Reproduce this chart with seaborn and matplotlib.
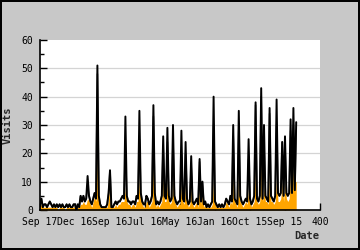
import numpy as np
import pandas as pd
import matplotlib
matplotlib.use("Agg")
import matplotlib.pyplot as plt
import seaborn as sns

# ---- data ----
days = list(range(0, 368, 2))

total_visits = [
    2,4,1,2,2,1,2,3,2,1,
    2,1,2,1,2,1,2,1,1,2,
    1,2,1,1,2,2,0,2,1,5,
    3,5,3,4,12,5,3,2,4,6,
    4,51,5,2,1,1,1,1,2,6,
    14,1,1,2,3,2,3,3,4,5,
    4,33,5,3,3,2,3,3,2,5,
    4,35,6,3,2,2,5,4,2,3,
    5,37,6,2,3,2,3,5,26,5,
    4,29,5,3,4,30,5,3,2,3,
    3,28,4,3,24,4,2,3,19,3,
    2,3,4,2,18,3,10,2,3,1,
    2,1,2,3,40,3,2,1,2,1,
    2,1,2,4,3,2,5,3,30,4,
    3,2,35,5,3,2,3,4,3,25,
    4,2,3,5,38,4,3,5,43,4,
    30,5,4,3,36,5,4,3,5,39,
    6,5,6,24,5,26,6,5,6,32,
    6,36,7,31,
]

unique_visits = [
    1,2,1,1,1,1,1,1,1,1,
    1,1,1,0,1,1,1,1,0,1,
    1,1,1,1,1,1,0,1,1,2,
    2,3,2,2,4,3,2,1,3,5,
    3,31,3,1,1,1,1,1,1,4,
    13,1,1,1,2,1,2,2,3,3,
    3,8,3,2,2,1,2,2,1,3,
    3,12,4,2,1,1,3,3,1,2,
    3,24,4,1,2,1,2,3,16,3,
    3,10,3,2,3,14,3,2,1,2,
    2,10,3,2,12,3,1,2,10,2,
    1,2,3,1,12,2,8,1,2,1,
    1,1,1,2,12,2,1,1,1,1,
    1,1,1,3,2,1,3,2,14,3,
    2,1,22,3,2,1,2,3,2,8,
    3,1,2,3,20,3,2,3,22,3,
    8,3,3,2,14,3,3,2,3,12,
    3,3,4,10,3,10,4,3,4,14,
    10,16,10,10,
]

# secondary (gray) series: same as total except at these peaks
gray_peak_index = [34, 41, 50, 61, 71, 81, 88, 91, 95, 101, 104, 108, 114, 124,
                   138, 142, 149, 154, 158, 160, 164, 169, 173, 175, 179, 181, 183]
gray_peak_value = [8, 48, 14, 20, 25, 33, 22, 24, 24, 20, 20, 15, 17, 30,
                   26, 28, 18, 37, 40, 22, 34, 30, 24, 22, 28, 30, 28]

tick_pos = [0, 50, 100, 150, 200, 250, 300, 350, 400]
tick_labels = ["Sep 17", "Dec 16", "Sep 16", "Jul 16", "May 16",
               "Jan 16", "Oct 15", "Sep 15", "400"]

gray_visits = list(total_visits)
for i, v in zip(gray_peak_index, gray_peak_value):
    gray_visits[i] = v

df = pd.DataFrame({"day": days, "total": total_visits,
                   "gray": gray_visits, "unique": unique_visits})

# ---- figure ----
sns.set_style("white")
plt.rcParams["font.family"] = ["DejaVu Sans Mono", "DejaVu Sans"]

fig = plt.figure(figsize=(3.6, 2.5), dpi=100)
fig.patch.set_facecolor("#c8c8c8")
fig.patch.set_edgecolor("black")
fig.patch.set_linewidth(1.5)

ax = fig.add_axes([40/360, 1-210/250, 280/360, 170/250])
ax.set_facecolor("white")

for y in [10, 20, 30, 40, 50]:
    ax.axhline(y, color="#d4d4d4", lw=0.9, zorder=0)

ax.fill_between(df["day"], 0, df["unique"], color="#ffa500", lw=0, zorder=1)
sns.lineplot(data=df, x="day", y="gray", ax=ax, color="#6e6e6e", lw=1.2, zorder=2)
sns.lineplot(data=df, x="day", y="total", ax=ax, color="black", lw=1.4, zorder=3)

ax.set_xlim(0, 400)
ax.set_ylim(0, 60)
ax.set_xticks(tick_pos)
ax.set_xticklabels(tick_labels)
ax.set_yticks([0, 10, 20, 30, 40, 50, 60])
ax.set_yticks([5, 15, 25, 35, 45, 55], minor=True)
ax.tick_params(axis="both", which="major", direction="in", length=5, width=1,
               color="black", labelsize=7, pad=5, labelcolor="black")
ax.tick_params(axis="y", which="minor", direction="in", length=3, width=1,
               color="black", left=True)
ax.tick_params(axis="x", which="major", bottom=True)
ax.tick_params(axis="y", which="major", left=True)

for s in ["top", "right"]:
    ax.spines[s].set_visible(False)
for s in ["left", "bottom"]:
    ax.spines[s].set_color("black")
    ax.spines[s].set_linewidth(1.2)

ax.set_xlabel("")
ax.set_ylabel("")
fig.text(8/360, 1-125/250, "Visits", rotation=90, ha="center", va="center",
         fontsize=7.5, fontweight="bold")
fig.text(319/360, 1-236/250, "Date", ha="right", va="center",
         fontsize=7.5, fontweight="bold")

fig.savefig("out.png", dpi=100, facecolor=fig.get_facecolor(),
            edgecolor=fig.get_edgecolor())
